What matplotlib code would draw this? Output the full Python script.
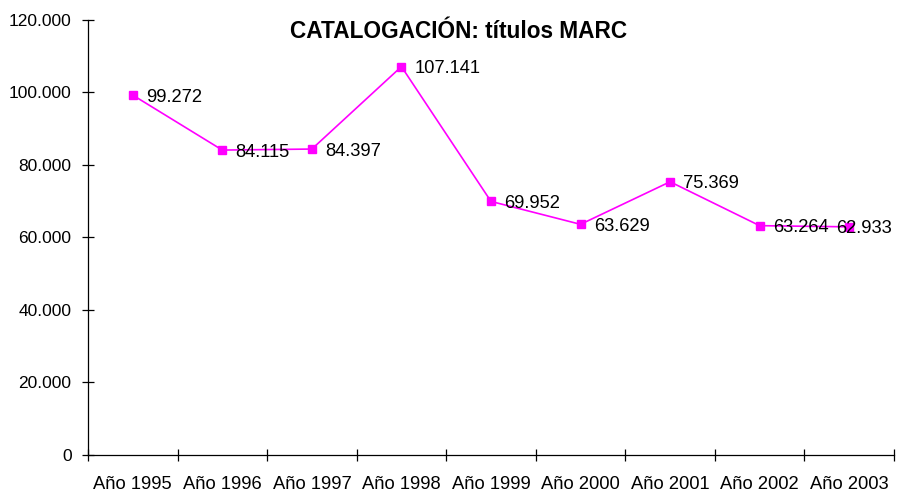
import matplotlib.pyplot as plt
from matplotlib.ticker import FuncFormatter, FixedLocator

plt.rcParams['font.family'] = ['Liberation Sans', 'DejaVu Sans']

years = ["Año 1995", "Año 1996", "Año 1997", "Año 1998", "Año 1999",
         "Año 2000", "Año 2001", "Año 2002", "Año 2003"]
titles = [99272, 84115, 84397, 107141, 69952, 63629, 75369, 63264, 62933]


def miles(v, pos=None):
    return f"{int(v):,}".replace(",", ".")


fig = plt.figure(figsize=(8.98, 4.96), dpi=100)
ax = fig.add_axes([0.098, 0.0827, 0.8975, 0.877])

x = list(range(len(years)))
ax.plot(x, titles, color="#ff00ff", lw=1.2, marker="s", ms=5.5,
        mec="#ff00ff", mfc="#ff00ff")

for xi, v in zip(x, titles):
    # last label gets pushed back left so it stays inside the figure
    dx = 9.5 if xi < len(years) - 1 else -9.5
    ax.annotate(miles(v), (xi, v), xytext=(dx, -1.5), textcoords="offset points",
                ha="left", va="center", fontsize=13.2)

ax.set_xlim(-0.5, len(years) - 0.5)
ax.set_ylim(0, 120000)
ax.set_yticks(range(0, 120001, 20000))
ax.yaxis.set_major_formatter(FuncFormatter(miles))

# category ticks sit between the years, labels at the centres
ax.xaxis.set_major_locator(FixedLocator([i - 0.5 for i in range(len(years) + 1)]))
ax.xaxis.set_major_formatter(FuncFormatter(lambda v, p: ""))
ax.xaxis.set_minor_locator(FixedLocator(x))
ax.set_xticklabels(years, minor=True)
ax.tick_params(axis="x", which="minor", length=0, pad=15, labelsize=13.2)
ax.tick_params(axis="both", which="major", direction="inout", length=8.6,
               width=0.9)
ax.tick_params(axis="y", pad=7.5, labelsize=12.5)

for side in ("top", "right"):
    ax.spines[side].set_visible(False)
for side in ("left", "bottom"):
    ax.spines[side].set_linewidth(0.9)

fig.text(459 / 898, 1 - 32 / 496, "CATALOGACIÓN: títulos MARC",
         ha="center", va="center", fontsize=16.3, fontweight="bold")

fig.savefig("out.png", dpi=100)
